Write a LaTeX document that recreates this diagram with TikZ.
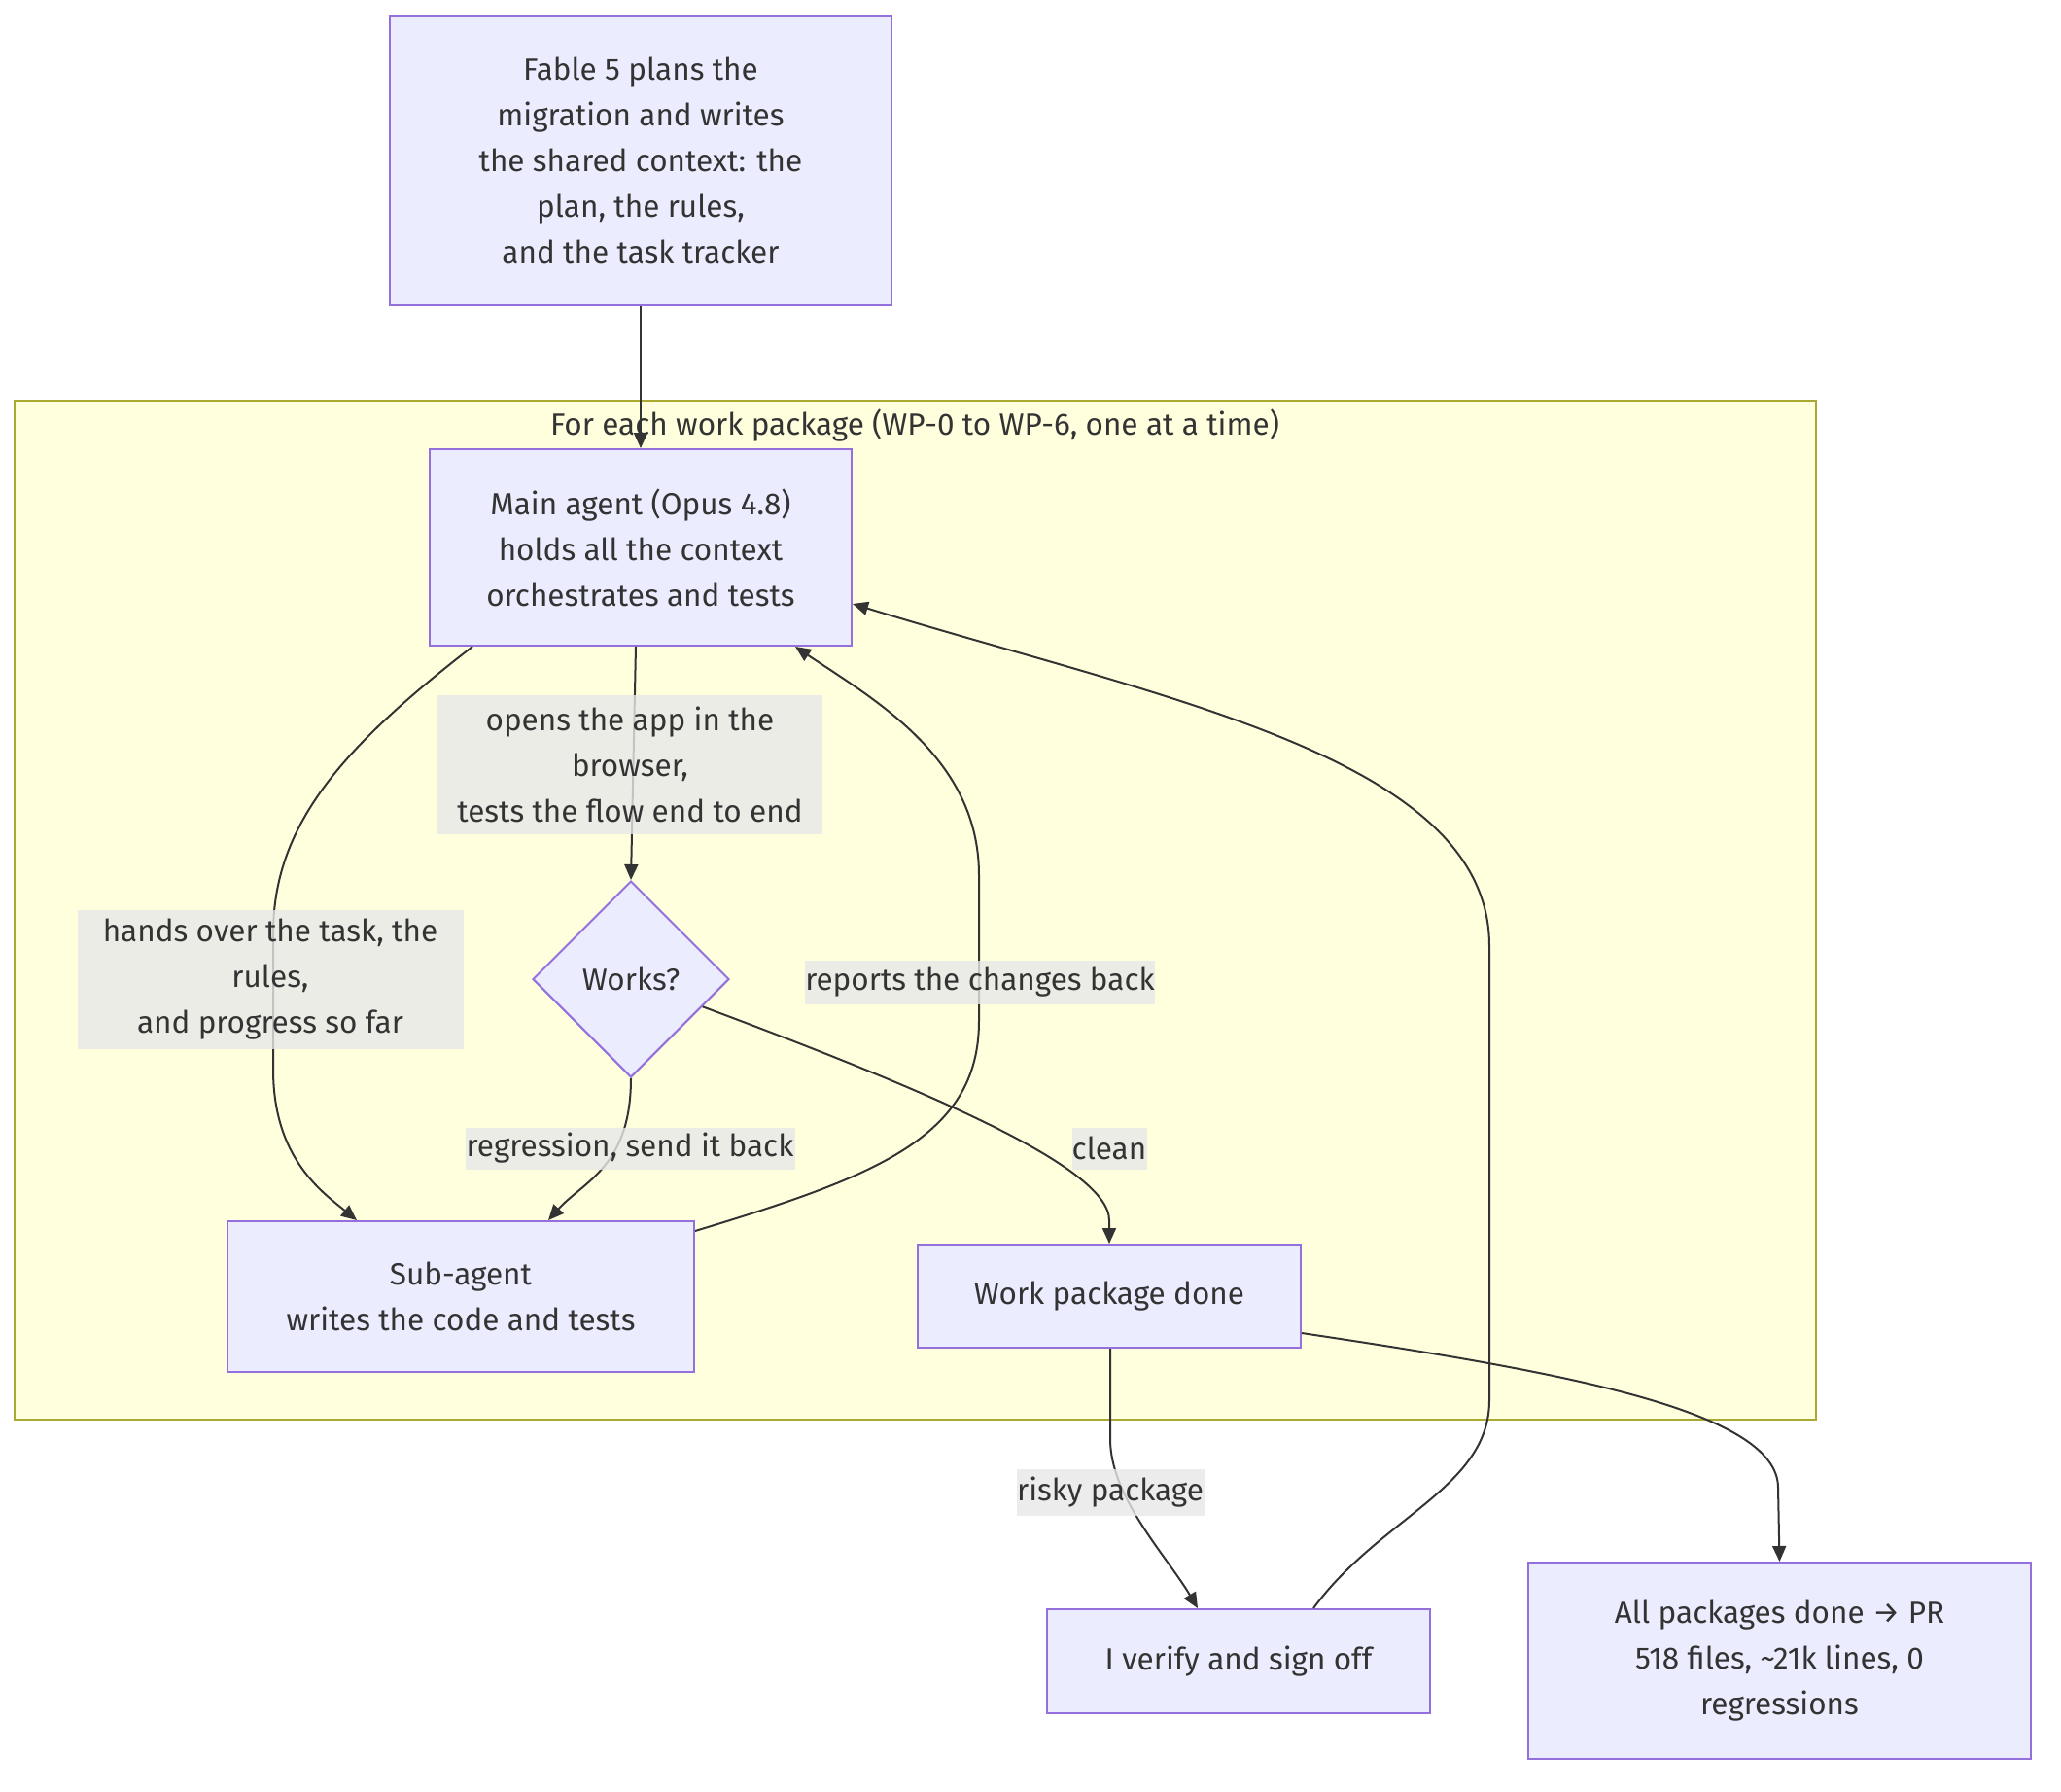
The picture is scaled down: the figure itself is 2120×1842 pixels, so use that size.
\documentclass[tikz,border=0pt]{standalone}
\usepackage{fontspec}
\setmainfont{Fira Sans}
\usetikzlibrary{shapes.geometric,arrows.meta,calc}
\definecolor{nodefill}{HTML}{ECECFF}
\definecolor{nodeline}{HTML}{9370DB}
\definecolor{clusterfill}{HTML}{FFFFDE}
\definecolor{clusterline}{HTML}{AAAA33}
\definecolor{edgecol}{HTML}{333333}
\definecolor{labelbg}{HTML}{E8E8E8}
\definecolor{txtcol}{HTML}{333333}
\newcommand\mfont{\fontsize{31.5}{47}\selectfont}
\begin{document}
\begin{tikzpicture}[x=1pt,y=-1pt,
  box/.style={draw=nodeline, fill=nodefill, line width=2pt, text=txtcol, align=center, inner sep=0pt, font=\mfont},
  decision/.style={diamond, draw=nodeline, fill=nodefill, line width=2pt, text=txtcol, inner sep=0pt, font=\mfont, minimum width=202pt, minimum height=202pt},
  clusterbox/.style={draw=clusterline, fill=clusterfill, line width=2pt, inner sep=0pt},
  elabel/.style={fill=labelbg, fill opacity=0.8, text opacity=1, text=txtcol, align=center, inner sep=0pt, font=\mfont},
  flow/.style={draw=edgecol, line width=2pt, -{Triangle[length=16pt,width=14pt]}}
]
\useasboundingbox (0,0) rectangle (2120,1842);
\fill[white] (0,0) rectangle (2120,1842);

% cluster
\node[clusterbox, minimum width=1853pt, minimum height=1048pt] (cluster) at (941.5,936) {};
\node[text=txtcol, font=\mfont, inner sep=0pt] (ctitle) at (941,438) {For each work package (WP-0 to WP-6, one at a time)};

% nodes
\node[box, minimum width=516pt, minimum height=298pt] (fable) at (659,165)
  {Fable 5 plans the\\migration and writes\\the shared context: the\\plan, the rules,\\and the task tracker};
\node[box, minimum width=434pt, minimum height=202pt] (main) at (659,563)
  {Main agent (Opus 4.8)\\holds all the context\\orchestrates and tests};
\node[decision] (works) at (649,1007) {Works?};
\node[box, minimum width=480pt, minimum height=155pt] (sub) at (474,1333.5)
  {Sub-agent\\writes the code and tests};
\node[box, minimum width=394pt, minimum height=106pt] (wpdone) at (1141,1333) {Work package done};
\node[box, minimum width=394pt, minimum height=107pt] (verify) at (1274,1708.5) {I verify and sign off};
\node[box, minimum width=517pt, minimum height=202pt] (allpk) at (1830.5,1708)
  {All packages done → PR\\518 files, \textasciitilde21k lines, 0\\regressions};

% edges
\draw[flow] (fable.south) -- (main.north);
\draw[flow] ($(main.south west)+(45,0)$) .. controls (350,770) and (281,850) .. (281,960)
  -- (281,1100) .. controls (281,1190) and (330,1225) .. ($(sub.north west)+(134,0)$);
\draw[flow] ($(main.south)+(-5,0)$) -- (works.north);
\draw[flow] (works.south) .. controls (649,1200) and (600,1215) .. ($(sub.north west)+(331,0)$);
\draw[flow] (works.-21) .. controls (950,1120) and (1141,1200) .. (1141,1255) -- (wpdone.north);
\draw[flow] ($(sub.north east)+(0,11)$) .. controls (900,1210) and (1007,1170) .. (1007,1050)
  -- (1007,900) .. controls (1007,780) and (900,720) .. ($(main.south west)+(377,0)$);
\draw[flow] ($(wpdone.south)+(1,0)$) -- (1142,1480) .. controls (1142,1540) and (1200,1600) .. ($(verify.north west)+(156,0)$);
\draw[flow] ($(verify.north west)+(275,0)$) .. controls (1420,1560) and (1532,1530) .. (1532,1440)
  -- (1532,973) .. controls (1532,780) and (1200,720) .. ($(main.north east)+(0,160)$);
\draw[flow] ($(wpdone.north east)+(0,92)$) .. controls (1600,1410) and (1829,1450) .. (1829,1530) -- (allpk.north);

% edge labels
\node[elabel, minimum width=396pt, minimum height=143pt] (lopens) at (648,786)
  {opens the app in the\\browser,\\tests the flow end to end};
\node[elabel, minimum width=397pt, minimum height=143pt] (lhands) at (278,1007)
  {hands over the task, the\\rules,\\and progress so far};
\node[elabel, minimum width=357pt, minimum height=45pt] (lreports) at (1008,1010) {reports the changes back};
\node[elabel, minimum width=339pt, minimum height=43pt] (lregr) at (648,1181) {regression, send it back};
\node[elabel, minimum width=77pt, minimum height=43pt] (lclean) at (1141,1181) {clean};
\node[elabel, minimum width=193pt, minimum height=48pt] (lrisky) at (1142,1535) {risky package};
\end{tikzpicture}
\end{document}
